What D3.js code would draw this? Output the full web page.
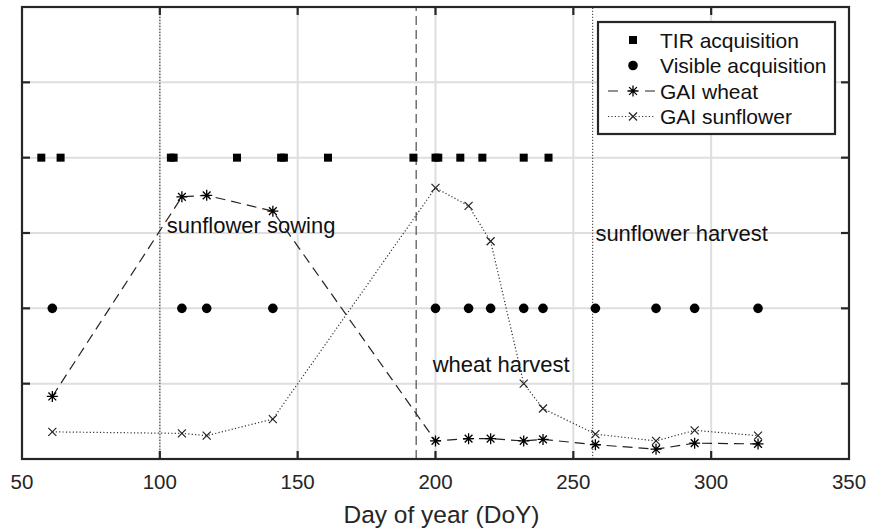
<!DOCTYPE html>
<html>
<head>
<meta charset="utf-8">
<script src="https://cdn.jsdelivr.net/npm/d3@7"></script>
<style>
  html, body { margin: 0; padding: 0; background: #fff; }
  svg { display: block; font-family: "Liberation Sans", Arial, Helvetica, sans-serif; }
</style>
</head>
<body>
<svg id="chart" width="871" height="529"></svg>
<script>
// Acquisition dates (day of year)
const tirDays = [57, 64, 104, 105, 128, 144, 145, 161, 192, 200, 201, 209, 217, 232, 241];
const visibleDays = [61, 108, 117, 141, 200, 212, 220, 232, 239, 258, 280, 294, 317];
const tirLevel = 4;
const visibleLevel = 2;

// Green area index measurements
const gaiDays = [61, 108, 117, 141, 200, 212, 220, 232, 239, 258, 280, 294, 317];
const gaiWheat = [0.83, 3.48, 3.50, 3.29, 0.24, 0.27, 0.27, 0.24, 0.26, 0.19, 0.13, 0.21, 0.20];
const gaiSunflower = [0.36, 0.34, 0.31, 0.53, 3.60, 3.36, 2.89, 1.00, 0.67, 0.33, 0.24, 0.38, 0.31];

// Crop calendar events
const events = [
  { label: "sunflower sowing", day: 100, textDay: 102.5, textY: 3.0, style: "dotted" },
  { label: "wheat harvest", day: 193, textDay: 199, textY: 1.15, style: "dashed" },
  { label: "sunflower harvest", day: 257, textDay: 258, textY: 2.9, style: "dotted" }
];

const xTicks = [50, 100, 150, 200, 250, 300, 350];
const yTicks = [0, 1, 2, 3, 4, 5, 6];
const xLabel = "Day of year (DoY)";
const legendLabels = ["TIR acquisition", "Visible acquisition", "GAI wheat", "GAI sunflower"];

const ink = "#262626";
const svg = d3.select("#chart");
const m = { left: 22, right: 22, top: 7, bottom: 70 };
const W = 871, H = 529;

const x = d3.scaleLinear().domain([50, 350]).range([m.left, W - m.right]);
const y = d3.scaleLinear().domain([0, 6]).range([H - m.bottom, m.top]);

// Grid
const grid = svg.append("g");
grid.selectAll("line.gx").data(xTicks.slice(1, -1)).join("line")
  .attr("x1", d => x(d)).attr("x2", d => x(d))
  .attr("y1", y(0)).attr("y2", y(6))
  .attr("stroke", "#dedede").attr("stroke-width", 2);
grid.selectAll("line.gy").data(yTicks.slice(1, -1)).join("line")
  .attr("x1", x(50)).attr("x2", x(350))
  .attr("y1", d => y(d)).attr("y2", d => y(d))
  .attr("stroke", "#dedede").attr("stroke-width", 2);

// Event markers
const evG = svg.append("g");
events.forEach(e => {
  evG.append("line")
    .attr("x1", x(e.day)).attr("x2", x(e.day))
    .attr("y1", y(0)).attr("y2", y(6))
    .attr("stroke", e.style === "dashed" ? "#666" : "#555")
    .attr("stroke-width", e.style === "dashed" ? 1.4 : 1.2)
    .attr("stroke-dasharray", e.style === "dashed" ? "9,5" : "1.2,1.8");
  evG.append("text")
    .attr("x", x(e.textDay)).attr("y", y(e.textY))
    .attr("font-size", 22).attr("fill", "#111")
    .text(e.label);
});

// Marker shapes
const asteriskPath = r => {
  const d = r * Math.SQRT1_2;
  return `M${-r},0L${r},0M0,${-r}L0,${r}M${-d},${-d}L${d},${d}M${-d},${d}L${d},${-d}`;
};
const crossPath = r => `M${-r},${-r}L${r},${r}M${-r},${r}L${r},${-r}`;

// GAI curves
const lineGen = d3.line().x(d => x(d[0])).y(d => y(d[1]));
const wheatPts = gaiDays.map((d, i) => [d, gaiWheat[i]]);
const sunPts = gaiDays.map((d, i) => [d, gaiSunflower[i]]);

svg.append("path").datum(wheatPts).attr("d", lineGen)
  .attr("fill", "none").attr("stroke", "#222").attr("stroke-width", 1.2)
  .attr("stroke-dasharray", "10,6");
svg.append("path").datum(sunPts).attr("d", lineGen)
  .attr("fill", "none").attr("stroke", "#333").attr("stroke-width", 1.2)
  .attr("stroke-dasharray", "1.2,2.2");

svg.append("g").selectAll("path").data(wheatPts).join("path")
  .attr("transform", d => `translate(${x(d[0])},${y(d[1])})`)
  .attr("d", asteriskPath(5.5)).attr("stroke", "#000").attr("stroke-width", 1.3).attr("fill", "none");
svg.append("g").selectAll("path").data(sunPts).join("path")
  .attr("transform", d => `translate(${x(d[0])},${y(d[1])})`)
  .attr("d", crossPath(4)).attr("stroke", "#222").attr("stroke-width", 1.2).attr("fill", "none");

// Acquisition markers
const sq = 8;
svg.append("g").selectAll("rect").data(tirDays).join("rect")
  .attr("x", d => x(d) - sq / 2).attr("y", y(tirLevel) - sq / 2)
  .attr("width", sq).attr("height", sq).attr("fill", "#000");
svg.append("g").selectAll("circle").data(visibleDays).join("circle")
  .attr("cx", d => x(d)).attr("cy", y(visibleLevel)).attr("r", 4.8).attr("fill", "#000");

// Axes box with inward ticks
const axG = svg.append("g");
const tickLen = 8;
axG.append("rect")
  .attr("x", x(50)).attr("y", y(6))
  .attr("width", x(350) - x(50)).attr("height", y(0) - y(6))
  .attr("fill", "none").attr("stroke", ink).attr("stroke-width", 2.2);
xTicks.slice(1, -1).forEach(t => {
  axG.append("line").attr("x1", x(t)).attr("x2", x(t)).attr("y1", y(0)).attr("y2", y(0) - tickLen)
    .attr("stroke", ink).attr("stroke-width", 2.2);
  axG.append("line").attr("x1", x(t)).attr("x2", x(t)).attr("y1", y(6)).attr("y2", y(6) + tickLen)
    .attr("stroke", ink).attr("stroke-width", 2.2);
});
yTicks.slice(1, -1).forEach(t => {
  axG.append("line").attr("x1", x(50)).attr("x2", x(50) + tickLen).attr("y1", y(t)).attr("y2", y(t))
    .attr("stroke", ink).attr("stroke-width", 2.2);
  axG.append("line").attr("x1", x(350)).attr("x2", x(350) - tickLen).attr("y1", y(t)).attr("y2", y(t))
    .attr("stroke", ink).attr("stroke-width", 2.2);
});
axG.selectAll("text.tick").data(xTicks).join("text")
  .attr("x", d => x(d)).attr("y", y(0) + 30)
  .attr("text-anchor", "middle").attr("font-size", 20.5).attr("fill", ink)
  .text(d => d);
axG.append("text")
  .attr("x", (x(50) + x(350)) / 2 + 6).attr("y", y(0) + 64)
  .attr("text-anchor", "middle").attr("font-size", 24.5).attr("fill", ink)
  .text(xLabel);

// Legend
const lg = svg.append("g").attr("transform", "translate(598,22)");
lg.append("rect").attr("width", 237).attr("height", 112)
  .attr("fill", "#fff").attr("stroke", ink).attr("stroke-width", 2.2);
const rowY = i => 18 + i * 25.5;
const symX = 35;
lg.append("rect").attr("x", symX - 4).attr("y", rowY(0) - 4).attr("width", 8).attr("height", 8).attr("fill", "#000");
lg.append("circle").attr("cx", symX).attr("cy", rowY(1)).attr("r", 4.8).attr("fill", "#000");
lg.append("line").attr("x1", 10).attr("x2", 57).attr("y1", rowY(2)).attr("y2", rowY(2))
  .attr("stroke", "#222").attr("stroke-width", 1.2).attr("stroke-dasharray", "10,27");
lg.append("path").attr("transform", `translate(${symX},${rowY(2)})`).attr("d", asteriskPath(5.5))
  .attr("stroke", "#000").attr("stroke-width", 1.3).attr("fill", "none");
lg.append("line").attr("x1", 10).attr("x2", 57).attr("y1", rowY(3)).attr("y2", rowY(3))
  .attr("stroke", "#333").attr("stroke-width", 1.2).attr("stroke-dasharray", "1.2,2.2");
lg.append("path").attr("transform", `translate(${symX},${rowY(3)})`).attr("d", crossPath(4))
  .attr("stroke", "#222").attr("stroke-width", 1.2).attr("fill", "none");
lg.selectAll("text").data(legendLabels).join("text")
  .attr("x", 62).attr("y", (d, i) => rowY(i) + 7.5)
  .attr("font-size", 21).attr("fill", "#111")
  .text(d => d);
</script>
</body>
</html>
